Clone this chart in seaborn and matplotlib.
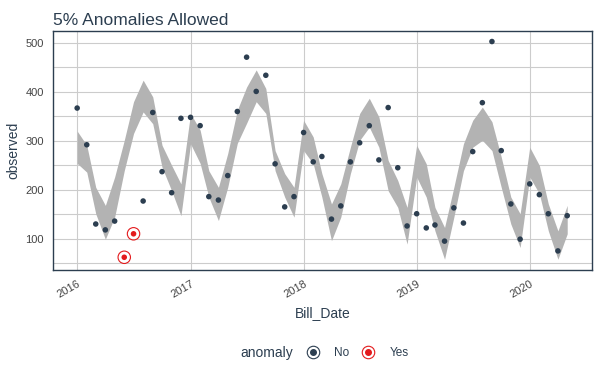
import numpy as np
import pandas as pd
import matplotlib
matplotlib.use("Agg")
import matplotlib.pyplot as plt
import matplotlib.dates as mdates
from matplotlib.lines import Line2D
import seaborn as sns

# monthly bills, Jan 2016 - May 2020
observed = [367, 292, 130, 118, 136, 62, 110, 177, 358, 237, 194, 346,
            348, 331, 186, 179, 229, 360, 471, 401, 434, 253, 165, 186,
            317, 257, 268, 140, 167, 257, 296, 331, 261, 368, 245, 126,
            151, 122, 128, 95, 163, 132, 278, 378, 503, 280, 171, 99,
            212, 190, 151, 75, 147]
recomposed_l1 = [254, 236, 151, 99, 144, 239, 315, 359, 335, 246, 198, 147,
                 294, 254, 185, 137, 205, 295, 336, 380, 356, 239, 185, 144,
                 280, 253, 185, 96, 144, 233, 301, 328, 287, 198, 164, 89,
                 226, 185, 116, 58, 144, 239, 287, 301, 280, 205, 130, 82,
                 226, 192, 116, 58, 110]
recomposed_l2 = [320, 291, 205, 168, 226, 301, 380, 424, 390, 291, 250, 212,
                 356, 322, 239, 205, 274, 363, 410, 445, 407, 280, 233, 205,
                 342, 308, 233, 171, 212, 287, 356, 387, 349, 260, 219, 164,
                 291, 253, 164, 123, 205, 294, 342, 369, 339, 267, 185, 151,
                 287, 250, 171, 116, 168]
anomaly_idx = [5, 6]

dates = pd.date_range("2016-01-01", periods=len(observed), freq="MS")
anomaly = ["Yes" if i in anomaly_idx else "No" for i in range(len(observed))]
df = pd.DataFrame({"Bill_Date": dates, "observed": observed, "anomaly": anomaly,
                   "lo": recomposed_l1, "hi": recomposed_l2})

navy = "#2c3e50"
red = "#e31a1c"

sns.set_style("white")
plt.rcParams["font.family"] = ["Liberation Sans", "DejaVu Sans"]

fig = plt.figure(figsize=(6, 3.8), dpi=100)
ax = fig.add_axes([53 / 600, 110 / 380, 539 / 600, 239 / 380])

ax.fill_between(df["Bill_Date"], df["lo"], df["hi"], color="#b3b3b3", lw=0, zorder=2)
sns.scatterplot(data=df, x="Bill_Date", y="observed", hue="anomaly",
                palette={"No": navy, "Yes": red}, s=16, linewidth=0,
                legend=False, ax=ax, zorder=3)
an = df[df["anomaly"] == "Yes"]
ax.scatter(an["Bill_Date"], an["observed"], s=80, facecolors="none",
           edgecolors=red, linewidths=0.8, zorder=3)

ax.set_ylim(36, 524.5)
ax.set_xlim(pd.Timestamp("2015-10-15"), pd.Timestamp("2020-07-20"))
ax.set_yticks([100, 200, 300, 400, 500])
ax.set_yticks(np.arange(50, 525, 50), minor=True)
ax.xaxis.set_major_locator(mdates.YearLocator())
ax.xaxis.set_major_formatter(mdates.DateFormatter("%Y"))
ax.grid(True, which="both", axis="y", color="#cccccc", lw=0.8, zorder=0)
ax.grid(True, which="major", axis="x", color="#cccccc", lw=0.8, zorder=0)
ax.set_axisbelow(True)
for sp in ax.spines.values():
    sp.set_color(navy)
    sp.set_linewidth(1.0)
ax.tick_params(axis="both", which="major", length=3, color="#cccccc",
               labelsize=8, labelcolor="#444444")
ax.tick_params(axis="y", which="minor", length=0)
plt.setp(ax.get_xticklabels(), rotation=30, ha="right", rotation_mode="anchor")

ax.set_xlabel("Bill_Date", fontsize=10, color=navy)
ax.set_ylabel("observed", fontsize=10, color=navy)
ax.set_title("5% Anomalies Allowed", loc="left", fontsize=12.5, color=navy, pad=4)

# legend at bottom: title on the same row as the keys
handles = [
    (Line2D([], [], marker="o", ls="", color=navy, markersize=4),
     Line2D([], [], marker="o", ls="", markerfacecolor="none", markeredgecolor=navy,
            markersize=9, markeredgewidth=0.8)),
    (Line2D([], [], marker="o", ls="", color=red, markersize=4),
     Line2D([], [], marker="o", ls="", markerfacecolor="none", markeredgecolor=red,
            markersize=9, markeredgewidth=0.8)),
]
fig.text(293 / 600, 1 - 353 / 380, "anomaly", ha="right", va="center",
         fontsize=10, color=navy)
leg = fig.legend(handles, ["No", "Yes"], loc="center left",
                 bbox_to_anchor=(306 / 600, 1 - 353 / 380), ncol=2, frameon=False,
                 fontsize=8.5, handlelength=1.2, handletextpad=1.2, columnspacing=1.0,
                 borderpad=0, borderaxespad=0)
for t in leg.get_texts():
    t.set_color(navy)

fig.savefig("out.png", dpi=100)
